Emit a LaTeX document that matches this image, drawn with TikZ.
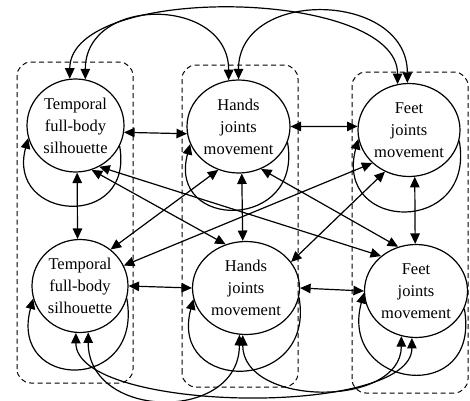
\documentclass[tikz,border=0pt]{standalone}
\usepackage{fontspec}
\setmainfont{Liberation Serif}
\usetikzlibrary{arrows.meta,shapes.geometric}

\tikzset{
  part/.style={ellipse,draw,inner sep=0pt,minimum height=93pt,align=center,
    font=\fontsize{16.5}{22}\selectfont},
  group/.style={draw,line width=1pt,dash pattern=on 5pt off 3.5pt,rounded corners=14pt},
  self/.style={out=-80,in=-105},
}

\begin{document}
\begin{tikzpicture}[x=1pt,y=1pt,line width=1.2pt,node distance=165pt,
    >={Triangle[length=10.5pt,width=9.5pt]},auto]
    \useasboundingbox (0,0) rectangle (470,400);

    \node[part,minimum width=97pt]  (tl) at (75.5,274.5)                     {Temporal\\full-body\\silhouette};
    \node[part,minimum width=103pt] (tm) [right of=tl,xshift=-2pt,yshift=-1pt]  {Hands\\joints\\movement};
    \node[part,minimum width=102pt] (tr) [right of=tm,xshift=5.5pt,yshift=-3.5pt] {Feet\\joints\\movement};
    \node[part,minimum width=96pt]  (bl) [below of=tl,xshift=4.5pt,yshift=4.5pt] {Temporal\\full-body\\silhouette};
    \node[part,minimum width=107pt] (bm) [below of=tm,xshift=7.5pt,yshift=3.5pt] {Hands\\joints\\movement};
    \node[part,minimum width=103pt] (br) [below of=tr,xshift=7pt,yshift=4pt]     {Feet\\joints\\movement};

    % groups
    \draw[group] (17,17) rectangle (133,338);
    \draw[group] (182,13) rectangle (298,335);
    \draw[group] (352,7) rectangle (468,328);

    \path[<->]  (tl.-8)   edge (tm.188)
                (tm.east) edge (tr.176)
                (bl.east) edge (bm.west)
                (bm.east) edge (br.west)
                (tl.-88)  edge (bl.93)
                (tm.-86)  edge (bm.94)
                (tr.-83)  edge (br.91)
                (tl.-70)  edge (bm.115)
                (tl.-60)  edge (br.135)
                (tm.245)  edge (bl.50)
                (tm.-62)  edge (br.112)
                (tr.222)  edge (bl.25)
                (tr.240)  edge (bm.30)
                ;

    % arcs over and under
    \path[<->]  (tl.78)  edge[out=90,in=90,distance=84pt]    (tm.102)
                (tm.90)  edge[out=90,in=90,distance=92pt]    (tr.92)
                (tl.97)  edge[out=90,in=90,distance=96pt]    (tr.104)
                (bl.-80) edge[out=-90,in=-90,distance=88pt]  (bm.-98)
                (bm.-94) edge[out=-90,in=-90,distance=72pt]  (br.-108)
                (bl.-95) edge[out=-90,in=-90,distance=80pt]  (br.-95)
                ;

    % self loops
    \path[->]   (tl.-25) edge[self,distance=86pt]  (tl.195)
                (tm.-18) edge[self,distance=90pt]  (tm.200)
                (tr.-12) edge[self,distance=97pt]  (tr.190)
                (bl.-15) edge[self,distance=96pt]  (bl.195)
                (bm.-10) edge[self,distance=98pt]  (bm.192)
                (br.-20) edge[self,distance=100pt] (br.182)
                ;
\end{tikzpicture}
\end{document}
